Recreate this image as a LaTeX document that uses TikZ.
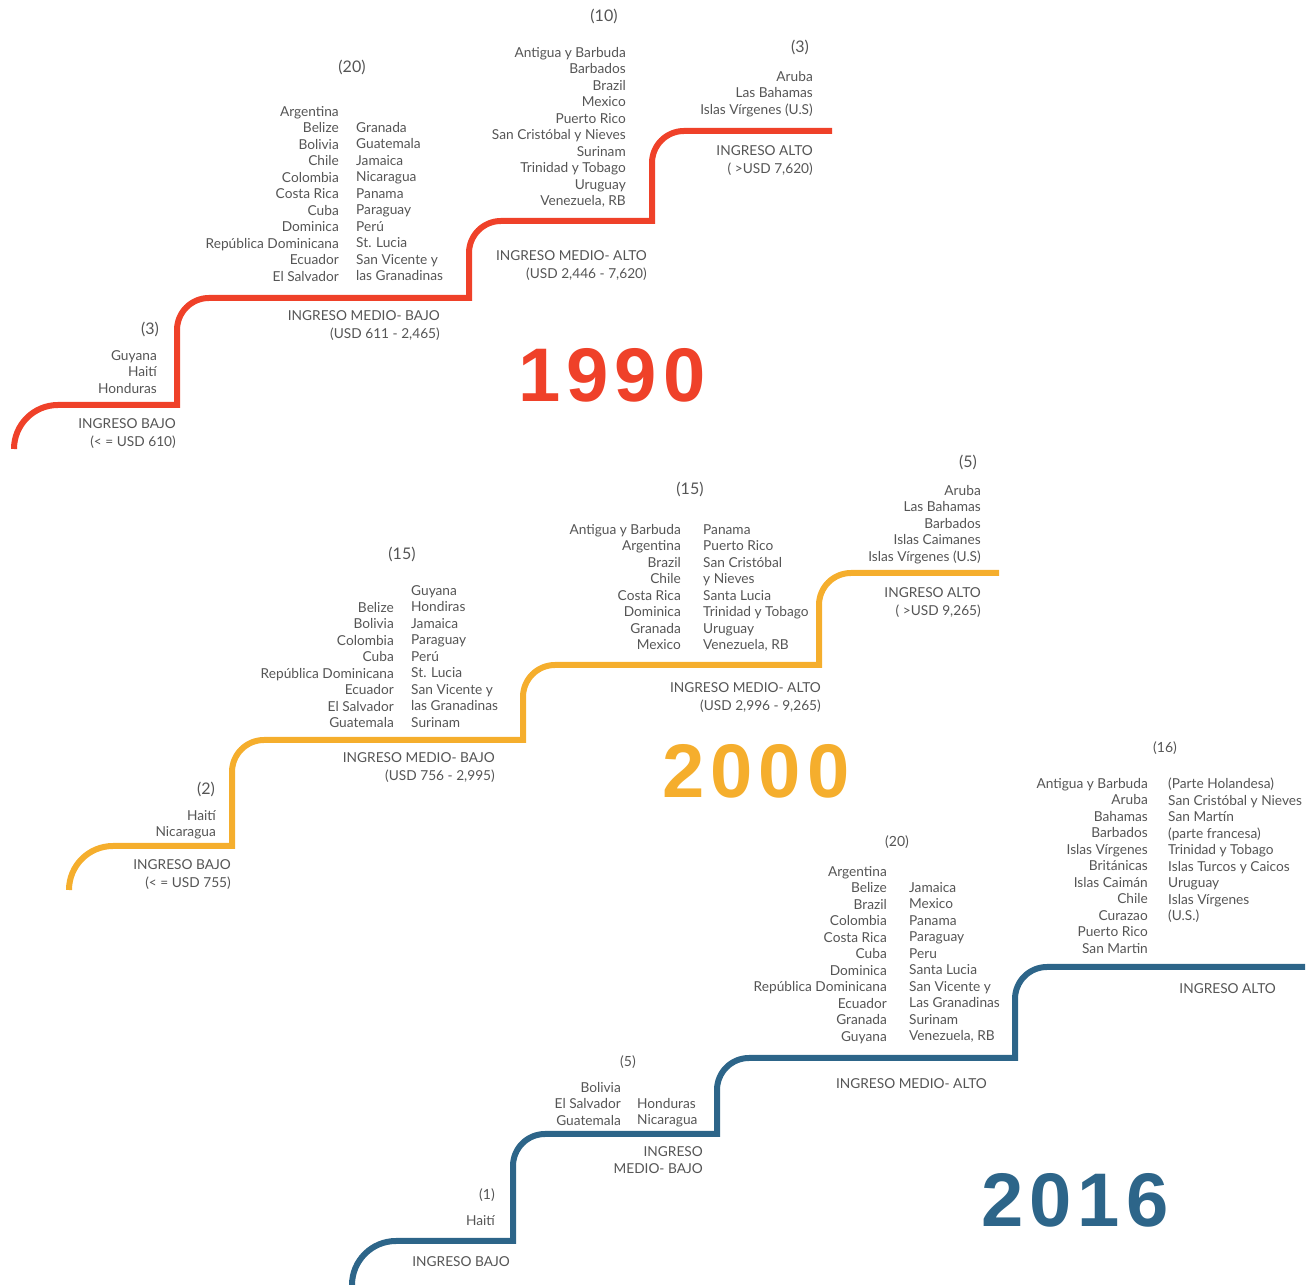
\documentclass[tikz,border=0pt]{standalone}
\usepackage{fontspec}
\setmainfont{Lato}
\newfontfamily\aniofont[LetterSpace=8]{Liberation Sans}
\usepackage{xcolor}
\definecolor{rojo}{HTML}{EF4129}
\definecolor{naranja}{HTML}{F5AE2D}
\definecolor{azul}{HTML}{2D6589}
\definecolor{texto}{HTML}{555555}

\begin{document}
\begin{tikzpicture}[x=1pt,y=1pt,
	escalon/.style={line width=6pt},
	lista/.style={inner sep=0pt, yshift=-2pt, text=texto, font=\fontsize{13.7}{16.5}\selectfont, execute at begin node=\strut},
	listad/.style={lista, anchor=north east, align=right},
	listai/.style={lista, anchor=north west, align=left},
	nivel/.style={inner sep=0pt, yshift=-2pt, text=texto, font=\fontsize{13.7}{18}\selectfont, execute at begin node=\strut, anchor=north east, align=right},
	conteo/.style={inner sep=0pt, text=texto, font=\fontsize{16}{18}\selectfont},
	conteob/.style={conteo, font=\fontsize{14}{16}\selectfont},
	anio/.style={inner sep=0pt, font=\aniofont\bfseries\fontsize{76}{80}\selectfont}]
	\newcommand\rad{44}
	\newcommand\rb{32}
	\useasboundingbox (0,0) rectangle (1312,1285);

	% 1990
	\draw[escalon, rojo] (14,880-\rad) arc[start angle=180, end angle=90, radius=\rad] -- (177,880)
		-- (177,987-\rb) arc[start angle=180, end angle=90, radius=\rb] -- (469,987)
		-- (469,1064-\rb) arc[start angle=180, end angle=90, radius=\rb] -- (652,1064)
		-- (652,1154-\rb) arc[start angle=180, end angle=90, radius=\rb] -- (832,1154);

	\node[conteo] (n90b) at (150,956) {(3)};
	\node[listad] (l90b) at (157,937) {Guyana\\Haití\\Honduras};
	\node[nivel] (i90b) at (176,869) {INGRESO BAJO\\(< = USD 610)};

	\node[conteo] (n90mb) at (352,1218) {(20)};
	\node[listad] (l90mb) at (339,1181) {Argentina\\Belize\\Bolivia\\Chile\\Colombia\\Costa Rica\\Cuba\\Dominica\\República Dominicana\\Ecuador\\El Salvador};
	\node[listai] (r90mb) at (356,1165) {Granada\\Guatemala\\Jamaica\\Nicaragua\\Panama\\Paraguay\\Perú\\St. Lucia\\San Vicente y\\las Granadinas};
	\node[nivel] (i90mb) at (440,977) {INGRESO MEDIO- BAJO\\(USD 611 - 2,465)};

	\node[conteo] (n90ma) at (604,1269) {(10)};
	\node[listad] (l90ma) at (626,1240) {Antigua y Barbuda\\Barbados\\Brazil\\Mexico\\Puerto Rico\\San Cristóbal y Nieves\\Surinam\\Trinidad y Tobago\\Uruguay\\Venezuela, RB};
	\node[nivel] (i90ma) at (647,1037) {INGRESO MEDIO- ALTO\\(USD 2,446 - 7,620)};

	\node[conteo] (n90a) at (800,1238) {(3)};
	\node[listad] (l90a) at (813,1216) {Aruba\\Las Bahamas\\Islas Vírgenes (U.S)};
	\node[nivel] (i90a) at (813,1142) {INGRESO ALTO\\( >USD 7,620)};

	\node[anio, text=rojo] (a90) at (612,910) {1990};

	% 2000
	\draw[escalon, naranja] (69,439-\rad) arc[start angle=180, end angle=90, radius=\rad] -- (232,439)
		-- (232,545-\rb) arc[start angle=180, end angle=90, radius=\rb] -- (523,545)
		-- (523,620-\rb) arc[start angle=180, end angle=90, radius=\rb] -- (819,620)
		-- (819,712-\rb) arc[start angle=180, end angle=90, radius=\rb] -- (999,712);

	\node[conteo] (n00b) at (206,496) {(2)};
	\node[listad] (l00b) at (216,477) {Haití\\Nicaragua};
	\node[nivel] (i00b) at (231,428) {INGRESO BAJO\\(< = USD 755)};

	\node[conteo] (n00mb) at (402,731) {(15)};
	\node[listad] (l00mb) at (394,685) {Belize\\Bolivia\\Colombia\\Cuba\\República Dominicana\\Ecuador\\El Salvador\\Guatemala};
	\node[listai] (r00mb) at (411,702) {Guyana\\Hondiras\\Jamaica\\Paraguay\\Perú\\St. Lucia\\San Vicente y\\las Granadinas\\Surinam};
	\node[nivel] (i00mb) at (495,535) {INGRESO MEDIO- BAJO\\(USD 756 - 2,995)};

	\node[conteo] (n00ma) at (690,796) {(15)};
	\node[listad] (l00ma) at (681,763) {Antigua y Barbuda\\Argentina\\Brazil\\Chile\\Costa Rica\\Dominica\\Granada\\Mexico};
	\node[listai] (r00ma) at (703,763) {Panama\\Puerto Rico\\San Cristóbal\\y Nieves\\Santa Lucia\\Trinidad y Tobago\\Uruguay\\Venezuela, RB};
	\node[nivel] (i00ma) at (821,605) {INGRESO MEDIO- ALTO\\(USD 2,996 - 9,265)};

	\node[conteo] (n00a) at (968,823) {(5)};
	\node[listad] (l00a) at (981,802) {Aruba\\Las Bahamas\\Barbados\\Islas Caimanes\\Islas Vírgenes (U.S)};
	\node[nivel] (i00a) at (981,700) {INGRESO ALTO\\( >USD 9,265)};

	\node[anio, text=naranja] (a00) at (756,514) {2000};

	% 2016
	\draw[escalon, azul] (352,44-\rad) arc[start angle=180, end angle=90, radius=\rad] -- (513,44)
		-- (513,151-\rb) arc[start angle=180, end angle=90, radius=\rb] -- (717,151)
		-- (717,227-\rb) arc[start angle=180, end angle=90, radius=\rb] -- (1015,227)
		-- (1015,318-\rb) arc[start angle=180, end angle=90, radius=\rb] -- (1305,318);

	\node[conteob] (n16b) at (487,90) {(1)};
	\node[listad] (l16b) at (495,73) {Haití};
	\node[nivel] (i16b) at (510,33) {INGRESO BAJO};

	\node[conteob] (n16mb) at (628,223) {(5)};
	\node[listad] (l16mb) at (621,205) {Bolivia\\El Salvador\\Guatemala};
	\node[listai] (r16mb) at (637,189) {Honduras\\Nicaragua};
	\node[nivel, font=\fontsize{13.7}{17}\selectfont] (i16mb) at (703,141) {INGRESO\\MEDIO- BAJO};

	\node[conteob] (n16ma) at (897,443) {(20)};
	\node[listad] (l16ma) at (887,421) {Argentina\\Belize\\Brazil\\Colombia\\Costa Rica\\Cuba\\Dominica\\República Dominicana\\Ecuador\\Granada\\Guyana};
	\node[listai] (r16ma) at (909,405) {Jamaica\\Mexico\\Panama\\Paraguay\\Peru\\Santa Lucia\\San Vicente y\\Las Granadinas\\Surinam\\Venezuela, RB};
	\node[nivel] (i16ma) at (987,211) {INGRESO MEDIO- ALTO};

	\node[conteob] (n16a) at (1165,537) {(16)};
	\node[listad] (l16a) at (1148,509) {Antigua y Barbuda\\Aruba\\Bahamas\\Barbados\\Islas Vírgenes\\Británicas\\Islas Caimán\\Chile\\Curazao\\Puerto Rico\\San Martin};
	\node[listai] (r16a) at (1168,509) {(Parte Holandesa)\\San Cristóbal y Nieves\\San Martín\\(parte francesa)\\Trinidad y Tobago\\Islas Turcos y Caicos\\Uruguay\\Islas Vírgenes\\(U.S.)};
	\node[nivel] (i16a) at (1276,306) {INGRESO ALTO};

	\node[anio, text=azul] (a16) at (1075,85) {2016};
\end{tikzpicture}
\end{document}
